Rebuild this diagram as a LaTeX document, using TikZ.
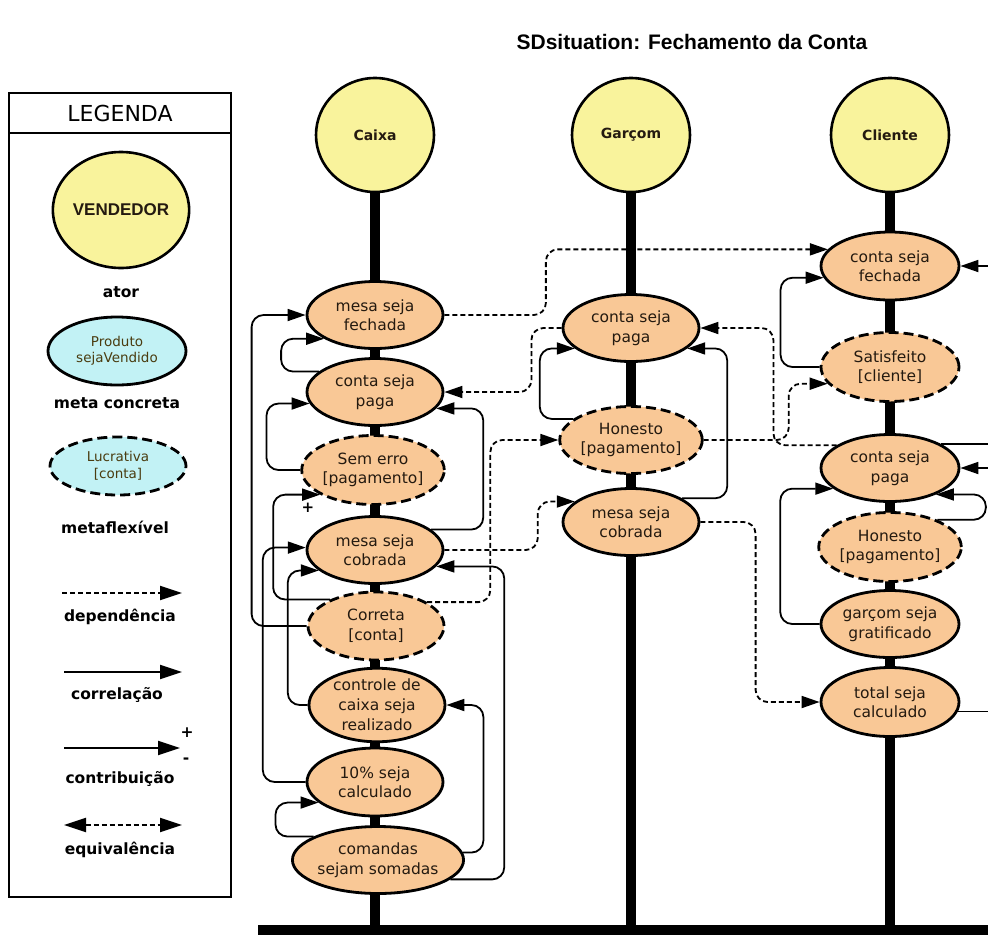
\documentclass[tikz,border=0pt]{standalone}
\usepackage{fontspec}
\setmainfont{DejaVu Sans}
\newfontfamily\titlefont{Liberation Sans}
\usetikzlibrary{shapes.geometric,arrows.meta}

\definecolor{actorfill}{HTML}{F9F39C}
\definecolor{goalfill}{HTML}{F9C896}
\definecolor{legendfill}{HTML}{C2F2F5}
\definecolor{inktext}{HTML}{241A10}
\definecolor{olivetext}{HTML}{4A3C10}

\begin{document}
\begin{tikzpicture}[x=1pt,y=-1pt,
  actor/.style={ellipse, draw, line width=2.6pt, fill=actorfill,
    minimum width=118pt, minimum height=114pt, inner sep=0pt,
    text=inktext, font=\fontsize{14}{16}\selectfont\bfseries},
  goal/.style={ellipse, draw, line width=2.8pt, fill=goalfill,
    minimum width=136pt, minimum height=67pt, inner sep=0pt, align=center,
    text=inktext, font=\fontsize{15.5}{19.5}\selectfont},
  softgoal/.style={goal, dash pattern=on 10pt off 5pt},
  corr/.style={-{Triangle[length=18pt,width=12pt]}, line width=1.8pt, rounded corners=12pt},
  dep/.style={corr, dash pattern=on 5pt off 3pt},
  linkline/.style={line width=1.8pt, rounded corners=12pt},
  lifeline/.style={line width=10pt},
  legtext/.style={font=\fontsize{15.5}{18}\selectfont\bfseries},
  bigtip/.style={-{Triangle[length=22pt,width=14pt]}, line width=2pt},
]
\useasboundingbox (0,0) rectangle (988,938);
\fill[white] (0,0) rectangle (988,938);

% title
\node[font=\titlefont\fontsize{21}{25}\bfseries\selectfont] (title) at (692,42)
  {SDsituation: Fechamento da Conta};

% ---------------- legend ----------------
\draw[line width=2.4pt] (9,93) rectangle (231,897);
\draw[line width=2.4pt] (9,133) -- (231,133);
\node[font=\fontsize{22}{25}\selectfont] (legTitle) at (120,113) {LEGENDA};

\node[actor, minimum width=118pt, minimum height=116pt,
  font=\titlefont\fontsize{17}{20}\bfseries\selectfont] (legActor) at (121,210) {VENDEDOR};
\node[legtext] (legActorLbl) at (121,292) {ator};

\node[goal, fill=legendfill, minimum width=138pt, minimum height=68pt,
  text=olivetext, font=\fontsize{13.5}{16.5}\selectfont] (legGoal) at (117,351) {Produto\\sejaVendido};
\node[legtext] (legGoalLbl) at (117,403) {meta concreta};

\node[softgoal, fill=legendfill, minimum width=136pt, minimum height=58pt,
  text=olivetext, font=\fontsize{13.5}{16.5}\selectfont] (legSoft) at (118,466) {Lucrativa\\{}[conta]};
\node[legtext] (legSoftLbl) at (115,527) {metaflexível};

\coordinate (ldepA) at (62,593);  \coordinate (ldepB) at (182,593);
\draw[bigtip, dash pattern=on 5pt off 3pt] (ldepA) -- (ldepB);
\node[legtext] (legDepLbl) at (120,617) {dependência};

\coordinate (lcorA) at (64,672);  \coordinate (lcorB) at (182,672);
\draw[bigtip] (lcorA) -- (lcorB);
\node[legtext] (legCorLbl) at (117,695) {correlação};

\coordinate (lconA) at (64,748);  \coordinate (lconB) at (180,748);
\draw[bigtip] (lconA) -- (lconB);
\node[legtext] (legPlus) at (187,733) {+};
\node[legtext] (legMinus) at (186,761) {-};
\node[legtext] (legConLbl) at (120,779) {contribuição};

\coordinate (leqA) at (64,825);  \coordinate (leqB) at (182,825);
\draw[{Triangle[length=22pt,width=14pt]}-{Triangle[length=22pt,width=14pt]},
  line width=2pt, dash pattern=on 5pt off 3pt] (leqA) -- (leqB);
\node[legtext] (legEqLbl) at (120,850) {equivalência};

% ---------------- actors and lifelines ----------------
\node[actor] (caixa) at (375,135) {Caixa};
\node[actor] (garcom) at (631,135) {Garçom};
\node[actor] (cliente) at (890,135) {Cliente};

\coordinate (floor) at (0,930);
\coordinate (edge) at (988,0);
\draw[lifeline] (caixa.south) -- (caixa.south |- floor);
\draw[lifeline] (garcom.south) -- (garcom.south |- floor);
\draw[lifeline] (cliente.south) -- (cliente.south |- floor);
\coordinate (baseL) at (258,930);
\coordinate (baseR) at (988,930);
\draw[lifeline] (baseL) -- (baseR);

% ---------------- Caixa goals ----------------
\node[goal] (cA1) at (375,315) {mesa seja\\fechada};
\node[goal] (cA2) at (375,392) {conta seja\\paga};
\node[softgoal, minimum width=130pt, minimum height=69pt] (cA3) at (373,470) {Sem erro\\{}[pagamento]};
\node[goal] (cA4) at (375,550) {mesa seja\\cobrada};
\node[softgoal, minimum height=68pt] (cA5) at (376,626) {Correta\\{}[conta]};
\node[goal, minimum height=69pt, font=\fontsize{15.5}{20}\selectfont] (cA6) at (377,705) {controle de\\caixa seja\\realizado};
\node[goal, minimum height=68pt] (cA7) at (375,782) {10\% seja\\calculado};
\node[goal] (cA8) at (378,860) {comandas\\sejam somadas};

% ---------------- Garçom goals ----------------
\node[goal] (gB1) at (631,328) {conta seja\\paga};
\node[softgoal] (gB2) at (631,440) {Honesto\\{}[pagamento]};
\node[goal] (gB3) at (631,522) {mesa seja\\cobrada};

% ---------------- Cliente goals ----------------
\node[goal, minimum width=138pt, minimum height=68pt] (cC1) at (890,266) {conta seja\\fechada};
\node[softgoal, minimum width=138pt, minimum height=69pt] (cC2) at (890,367) {Satisfeito\\{}[cliente]};
\node[goal, minimum width=138pt] (cC3) at (890,468) {conta seja\\paga};
\node[softgoal, minimum width=138pt, minimum height=69pt] (cC4) at (890,547) {Honesto\\{}[pagamento]};
\node[goal, minimum width=138pt] (cC5) at (890,624) {garçom seja\\gratificado};
\node[goal, minimum width=138pt, minimum height=69pt] (cC6) at (890,702) {total seja\\calculado};

% ---------------- correlations inside Caixa ----------------
\draw[corr] (cA5.west) -| ([xshift=-54pt]cA1.west) -- (cA1.west);
\draw[corr] (cA2.160) -| ([xshift=-43pt]cA1.205) -- (cA1.205);
\draw[corr] (cA3.west) -| ([xshift=-43pt]cA2.190) -- (cA2.190);
\draw[corr] (cA5.150) -| ([xshift=-47pt]cA3.205) -- (cA3.205);
\node[font=\fontsize{15}{17}\selectfont\bfseries] (plusSign) at (308,508) {+};
\draw[corr] (cA7.west) -| ([xshift=-43pt]cA4.178) -- (cA4.178);
\draw[corr] (cA6.west) -| ([xshift=-31pt]cA4.200) -- (cA4.200);
\draw[corr] (cA8.160) -| ([xshift=-43pt]cA7.200) -- (cA7.200);

\draw[corr] (cA8.-15) -| ([xshift=68pt]cA4.-15) -- (cA4.-15);
\draw[corr] (cA8.5) -| ([xshift=37pt]cA6.east) -- (cA6.east);
\draw[corr] (cA4.20) -| ([xshift=47pt]cA2.-15) -- (cA2.-15);

% ---------------- correlations inside Garçom ----------------
\draw[corr] (gB2.160) -| ([xshift=-35pt]gB1.200) -- (gB1.200);
\draw[corr] (gB3.25) -| ([xshift=40pt]gB1.-20) -- (gB1.-20);

% ---------------- correlations inside Cliente ----------------
\draw[corr] (cC2.west) -| ([xshift=-43pt]cC1.190) -- (cC1.190);
\draw[corr] (cC5.west) -| ([xshift=-53pt]cC3.200) -- (cC3.200);
\draw[corr] (cC4.30) -| ([xshift=50pt]cC3.-30) -- (cC3.-30);
\coordinate (edgeA) at (cC1.east -| edge);
\coordinate (edgeB) at (cC3.25 -| edge);
\coordinate (edgeC) at (cC3.east -| edge);
\coordinate (edgeD) at (cC6.-8 -| edge);
\draw[corr] (edgeA) -- (cC1.east);
\draw[linkline] (cC3.25) -- (edgeB);
\draw[corr] (edgeC) -- (cC3.east);
\draw[linkline] (cC6.-8) -- (edgeD);

% ---------------- dependencies between actors ----------------
\draw[dep] (cA1.east) -| ([xshift=-282pt]cC1.165) -- (cC1.165);
\draw[dep] (gB1.west) -| ([xshift=87pt]cA2.east) -- (cA2.east);
\draw[dep] (cC3.157) -| ([xshift=73pt]gB1.east) -- (gB1.east);
\draw[dep] (gB2.east) -| ([xshift=-39pt]cC2.195) -- (cC2.195);
\draw[dep] (cA4.east) -| ([xshift=-37pt]gB3.160) -- (gB3.160);
\draw[dep] (cA5.25) -| ([xshift=-68pt]gB2.west) -- (gB2.west);
\draw[dep] (gB3.east) -| ([xshift=-64pt]cC6.west) -- (cC6.west);
\end{tikzpicture}
\end{document}
